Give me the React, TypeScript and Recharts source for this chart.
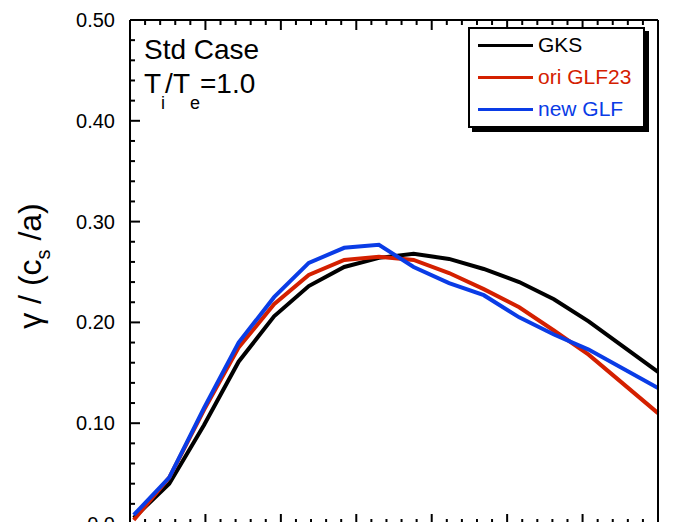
import React from 'react'
import { LineChart, Line, XAxis, YAxis, Legend } from 'recharts'

const FONT = '"Liberation Sans", Arial, Helvetica, sans-serif'
const RED = '#d42000'
const BLUE = '#0a3ce6'

// x positions of the computed points (axis runs 0..7, labels are cut off in the picture)
const KY = [0.05, 0.52, 0.98, 1.44, 1.91, 2.37, 2.84, 3.30, 3.76, 4.23, 4.69, 5.16, 5.62, 6.08, 6.54, 7.00]
const GKS = [0.006, 0.040, 0.098, 0.161, 0.206, 0.236, 0.255, 0.264, 0.268, 0.263, 0.253, 0.240, 0.223, 0.201, 0.176, 0.151]
const ORI_GLF23 = [0.004, 0.046, 0.113, 0.175, 0.218, 0.247, 0.262, 0.265, 0.262, 0.249, 0.233, 0.215, 0.192, 0.168, 0.139, 0.110]
const NEW_GLF = [0.009, 0.046, 0.115, 0.180, 0.225, 0.259, 0.274, 0.277, 0.255, 0.239, 0.227, 0.205, 0.188, 0.173, 0.154, 0.135]
const SERIES_ORDER = ['GKS', 'ori GLF23', 'new GLF']

const Y_TICKS = [
  0, 0.02, 0.04, 0.06, 0.08, 0.1, 0.12, 0.14, 0.16, 0.18, 0.2, 0.22, 0.24,
  0.26, 0.28, 0.3, 0.32, 0.34, 0.36, 0.38, 0.4, 0.42, 0.44, 0.46, 0.48, 0.5,
]
const X_TICKS = Array.from({ length: 36 }, (_, i) => +(i * 0.2).toFixed(1))

const data = KY.map((k, i) => ({ ky: k, gks: GKS[i], ori: ORI_GLF23[i], glf: NEW_GLF[i] }))

const isMajor = (v: number, step: number) => Math.abs(v / step - Math.round(v / step)) < 1e-6

function LeftTick({ x, y, payload }: any) {
  const v = payload.value
  const major = isMajor(v, 0.1)
  const ax = x + 15
  return (
    <g>
      <line x1={ax} x2={ax + (major ? 10 : 5)} y1={y} y2={y} stroke="#000" strokeWidth={2} />
      {major && (
        <text x={x} y={y} textAnchor="end" dominantBaseline="central" fontSize={20} fontFamily={FONT} fill="#000">
          {v === 0 ? '0.0' : v.toFixed(2)}
        </text>
      )}
    </g>
  )
}

function RightTick({ x, y, payload }: any) {
  const major = isMajor(payload.value, 0.1)
  return <line x1={x} x2={x - (major ? 10 : 5)} y1={y} y2={y} stroke="#000" strokeWidth={2} />
}

function BottomTick({ x, y, payload }: any) {
  const major = isMajor(payload.value, 1)
  return <line x1={x} x2={x} y1={y} y2={y - (major ? 10 : 5)} stroke="#000" strokeWidth={2} />
}

function TopTick({ x, y, payload }: any) {
  const major = isMajor(payload.value, 1)
  return <line x1={x} x2={x} y1={y} y2={y + (major ? 10 : 5)} stroke="#000" strokeWidth={2} />
}

function LegendBox({ payload }: any) {
  const items = [...(payload || [])].sort(
    (a: any, b: any) => SERIES_ORDER.indexOf(a.value) - SERIES_ORDER.indexOf(b.value),
  )
  return (
    <div
      style={{
        border: '2px solid #000',
        boxShadow: '4px 4px 0 #000',
        background: '#fff',
        width: 177,
        height: 101,
        boxSizing: 'border-box',
        padding: '0 0 0 8px',
        fontFamily: FONT,
      }}
    >
      {items.map((p: any) => (
        <div key={p.value} style={{ display: 'flex', alignItems: 'center', height: 32 }}>
          <span style={{ display: 'inline-block', width: 55, borderTop: `3px solid ${p.color}`, marginRight: 5 }} />
          <span style={{ color: p.color, fontSize: 21, lineHeight: '24px' }}>{p.value}</span>
        </div>
      ))}
    </div>
  )
}

export default function App() {
  return (
    <div style={{ position: 'absolute', left: 0, top: 0, width: 675, height: 522, overflow: 'hidden', background: '#fff' }}>
      <LineChart width={675} height={560} data={data} margin={{ top: 19, right: 16, bottom: 35, left: 129 }}>
        <XAxis
          xAxisId="b" dataKey="ky" type="number" domain={[0, 7]} ticks={X_TICKS} interval={0}
          height={1} tickSize={0} tickMargin={0} tickLine={false} tick={<BottomTick />}
          axisLine={{ stroke: '#000', strokeWidth: 2 }}
        />
        <XAxis
          xAxisId="t" orientation="top" dataKey="ky" type="number" domain={[0, 7]} ticks={X_TICKS} interval={0}
          height={1} tickSize={0} tickMargin={0} tickLine={false} tick={<TopTick />}
          axisLine={{ stroke: '#000', strokeWidth: 2 }}
        />
        <YAxis
          yAxisId="l" type="number" domain={[0, 0.5]} ticks={Y_TICKS} interval={0}
          width={1} tickSize={0} tickMargin={15} tickLine={false} tick={<LeftTick />}
          axisLine={{ stroke: '#000', strokeWidth: 2 }}
        />
        <YAxis
          yAxisId="r" orientation="right" type="number" domain={[0, 0.5]} ticks={Y_TICKS} interval={0}
          width={1} tickSize={0} tickMargin={0} tickLine={false} tick={<RightTick />}
          axisLine={{ stroke: '#000', strokeWidth: 2 }}
        />
        <Legend
          layout="vertical" align="center" verticalAlign="middle" content={<LegendBox />}
          wrapperStyle={{ left: 468, top: 27, width: 'auto', height: 'auto' }}
        />
        <Line xAxisId="b" yAxisId="l" type="linear" dataKey="gks" name="GKS" stroke="#000" strokeWidth={4} dot={false} isAnimationActive={false} />
        <Line xAxisId="b" yAxisId="l" type="linear" dataKey="ori" name="ori GLF23" stroke={RED} strokeWidth={4} dot={false} isAnimationActive={false} />
        <Line xAxisId="b" yAxisId="l" type="linear" dataKey="glf" name="new GLF" stroke={BLUE} strokeWidth={4} dot={false} isAnimationActive={false} />
      </LineChart>
      <svg width={675} height={522} style={{ position: 'absolute', left: 0, top: 0, pointerEvents: 'none' }}>
        <text x={144} y={59} fontSize={28} fontFamily={FONT} fill="#000">Std Case</text>
        <text x={144} y={93} fontSize={28} fontFamily={FONT} fill="#000">
          T<tspan fontSize={18} dy={16}>i</tspan>
          <tspan dy={-16}>/T</tspan>
          <tspan fontSize={18} dy={16}>e</tspan>
          <tspan dy={-16}>=1.0</tspan>
        </text>
        <text x={41} y={266} transform="rotate(-90, 41, 266)" textAnchor="middle" fontSize={32} fontFamily={FONT} fill="#000">
          γ / (c<tspan fontSize={20} dy={9}>s</tspan>
          <tspan dy={-9}> /a)</tspan>
        </text>
      </svg>
    </div>
  )
}
